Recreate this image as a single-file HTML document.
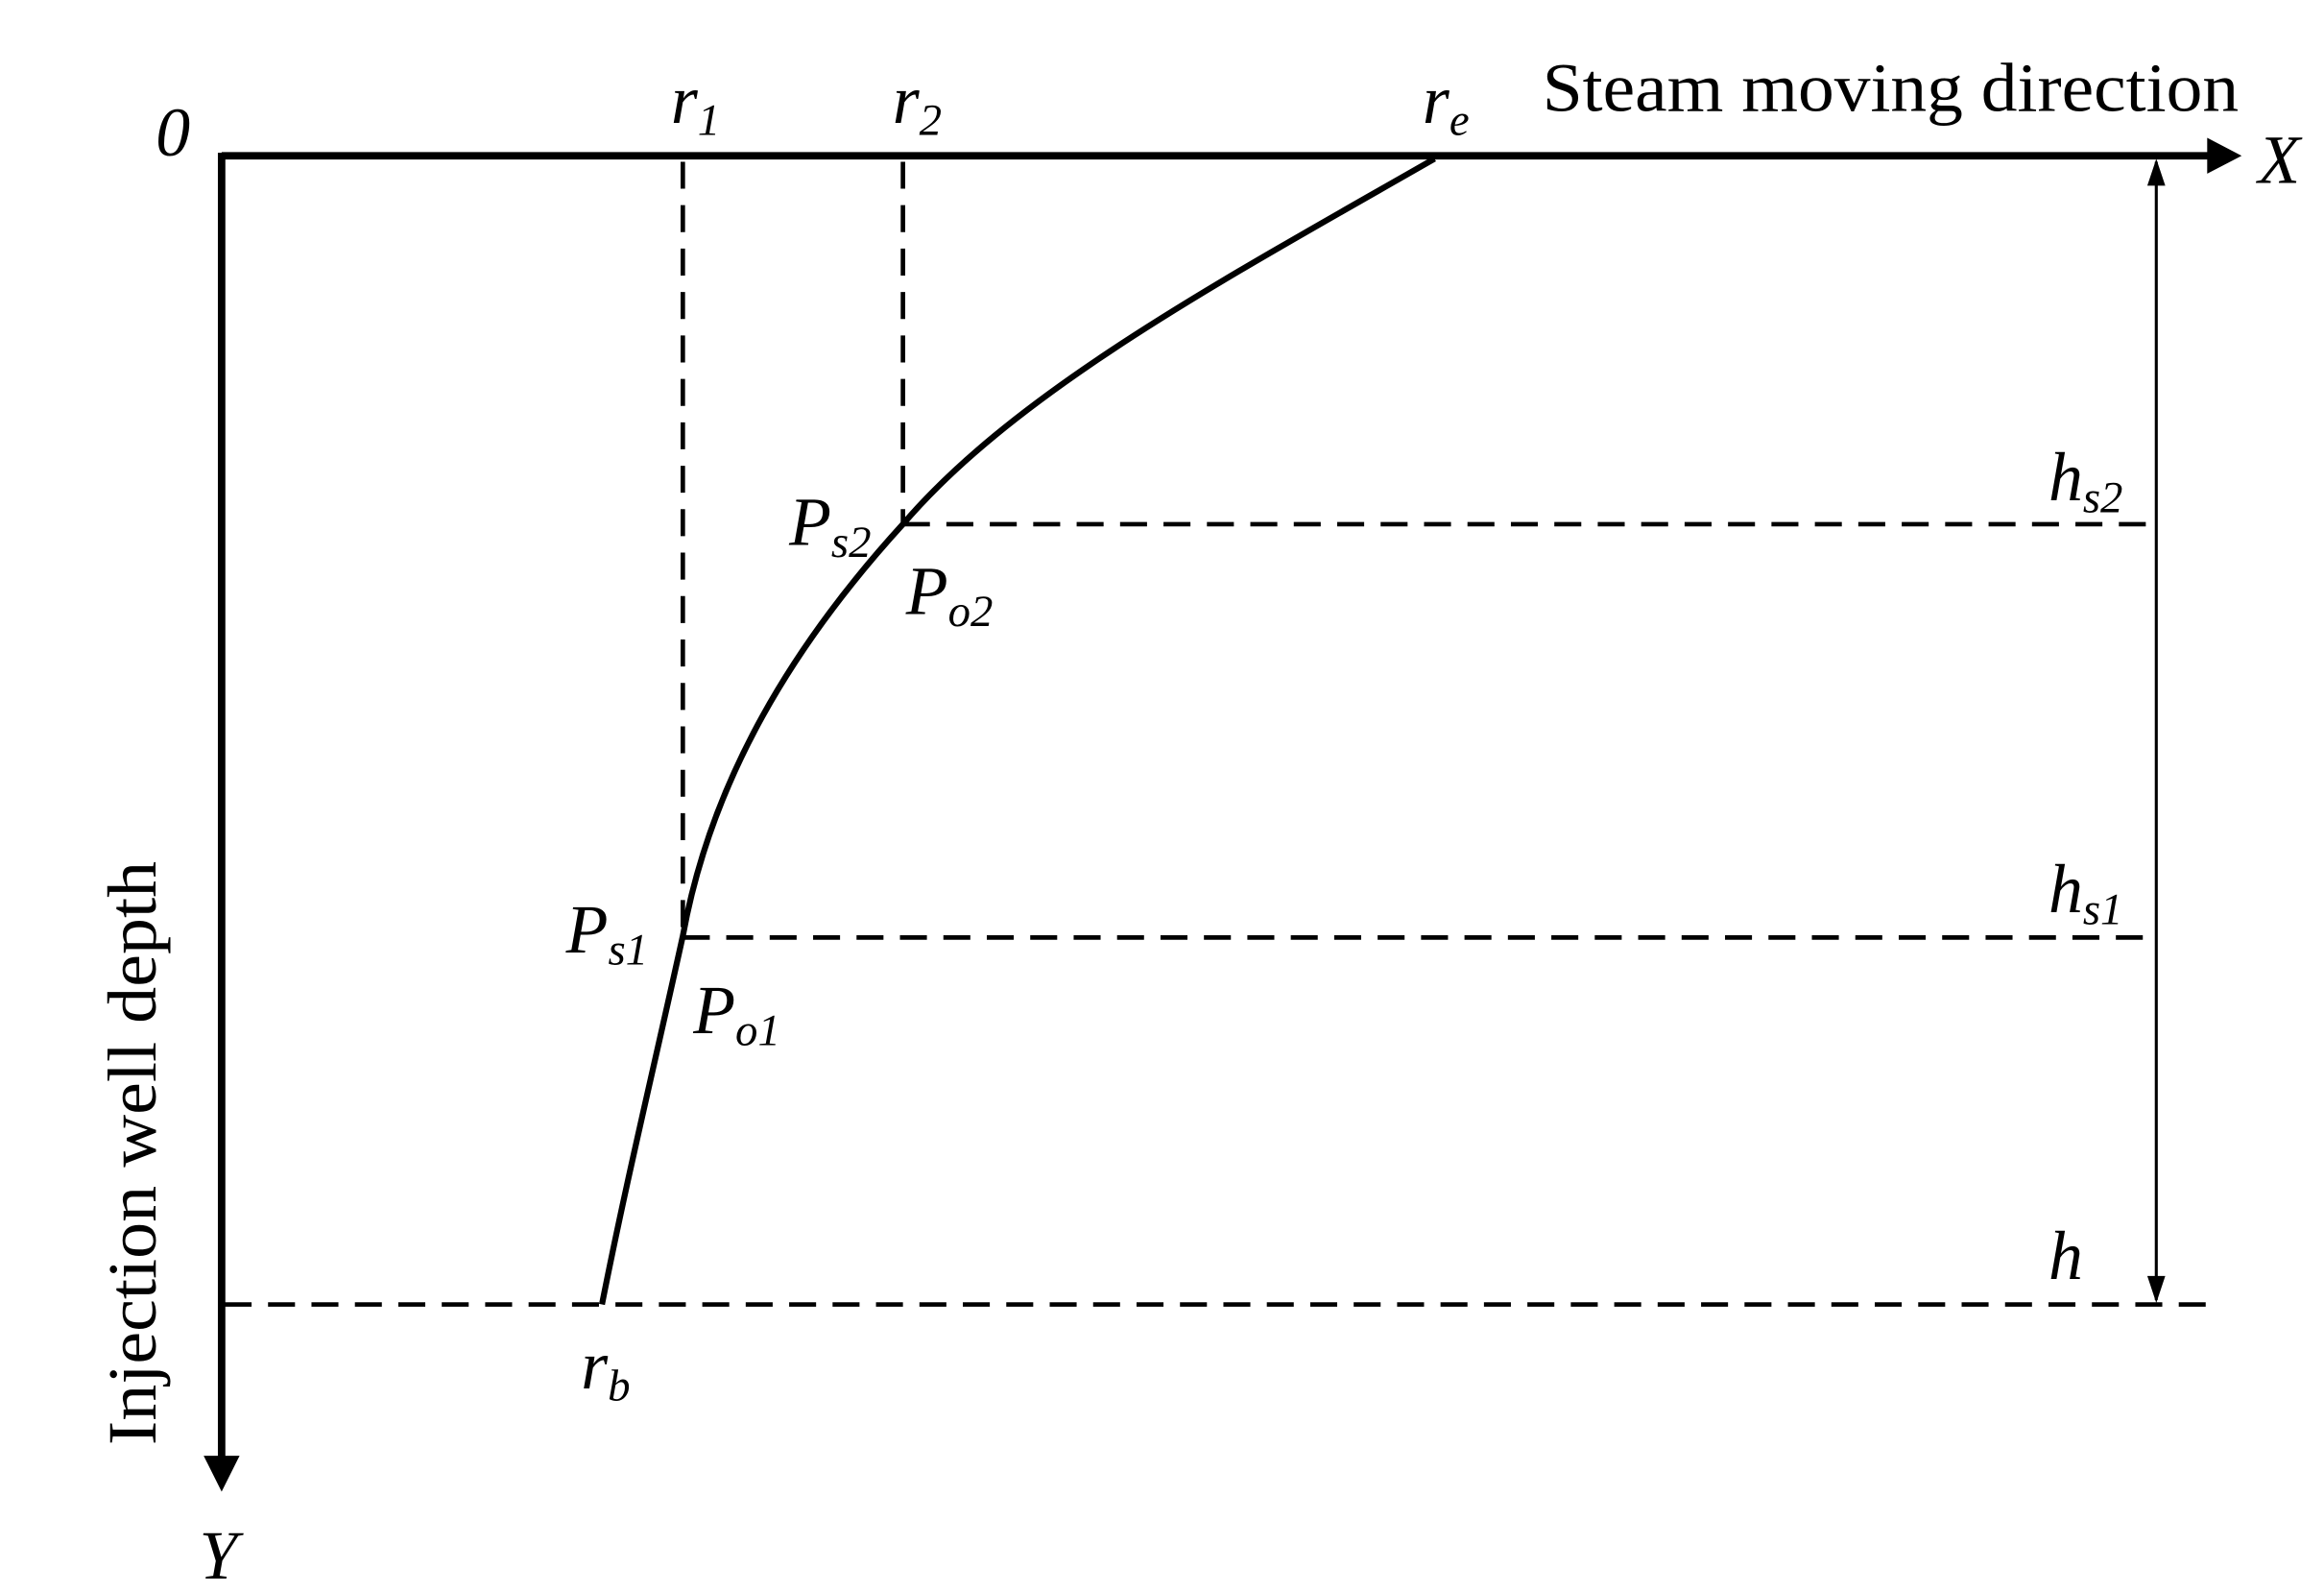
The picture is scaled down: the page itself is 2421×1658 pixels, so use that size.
<!DOCTYPE html>
<html><head><meta charset="utf-8"><style>
html,body{margin:0;padding:0;background:#fff;}
svg{display:block;}
text{font-family:"Liberation Serif",serif;fill:#000;}
.i{font-style:italic;}
</style></head><body>
<svg width="2421" height="1658" viewBox="0 0 1552 1063" preserveAspectRatio="none" xmlns="http://www.w3.org/2000/svg">
<!-- axes -->
<line x1="148" y1="104" x2="1478" y2="104" stroke="#000" stroke-width="5"/>
<path d="M1474,92 L1497,104 L1474,116 z" fill="#000"/>
<line x1="148" y1="102" x2="148" y2="975" stroke="#000" stroke-width="5"/>
<path d="M136,972 L148,996 L160,972 z" fill="#000"/>
<!-- dashed -->
<g stroke="#000" stroke-width="3" stroke-dasharray="18,11" fill="none">
<line x1="456" y1="108" x2="456" y2="625"/>
<line x1="603" y1="108" x2="603" y2="350"/>
<line x1="603" y1="350" x2="1440" y2="350"/>
<line x1="456" y1="626" x2="1440" y2="626"/>
<line x1="150" y1="871" x2="1482" y2="871"/>
</g>
<!-- curve -->
<path d="M958,106 C820,185 680,260 603,350 C530,430 475,520 456,625 C435,720 418,790 402,871" stroke="#000" stroke-width="4" fill="none"/>
<!-- double arrow -->
<line x1="1440" y1="108" x2="1440" y2="868" stroke="#000" stroke-width="2"/>
<path d="M1434,124 L1440,106 L1446,124 z" fill="#000"/>
<path d="M1434,852 L1440,870 L1446,852 z" fill="#000"/>
<!-- labels -->
<text x="104" y="104" font-size="46" class="i">0</text>
<text x="448" y="82" font-size="46" class="i">r<tspan font-size="30" dy="8">1</tspan></text>
<text x="596" y="82" font-size="46" class="i">r<tspan font-size="30" dy="8">2</tspan></text>
<text x="950" y="82" font-size="46" class="i">r<tspan font-size="30" dy="8">e</tspan></text>
<text x="1030" y="74" font-size="46" textLength="465" lengthAdjust="spacingAndGlyphs">Steam moving direction</text>
<text x="1508" y="122" font-size="46" class="i">X</text>
<text x="133" y="1054" font-size="46" class="i">Y</text>
<text x="1368" y="334" font-size="46" class="i">h<tspan font-size="30" dy="8">s2</tspan></text>
<text x="1368" y="609" font-size="46" class="i">h<tspan font-size="30" dy="8">s1</tspan></text>
<text x="1368" y="854" font-size="46" class="i">h</text>
<text x="527" y="364" font-size="46" class="i">P<tspan font-size="30" dy="8">s2</tspan></text>
<text x="605" y="410" font-size="46" class="i">P<tspan font-size="30" dy="8">o2</tspan></text>
<text x="378" y="636" font-size="46" class="i">P<tspan font-size="30" dy="8">s1</tspan></text>
<text x="463" y="690" font-size="46" class="i">P<tspan font-size="30" dy="8">o1</tspan></text>
<text x="388" y="927" font-size="46" class="i">r<tspan font-size="30" dy="8">b</tspan></text>
<text transform="translate(104,770) rotate(-90)" text-anchor="middle" font-size="46" textLength="390" lengthAdjust="spacingAndGlyphs">Injection well depth</text>
</svg>
</body></html>
